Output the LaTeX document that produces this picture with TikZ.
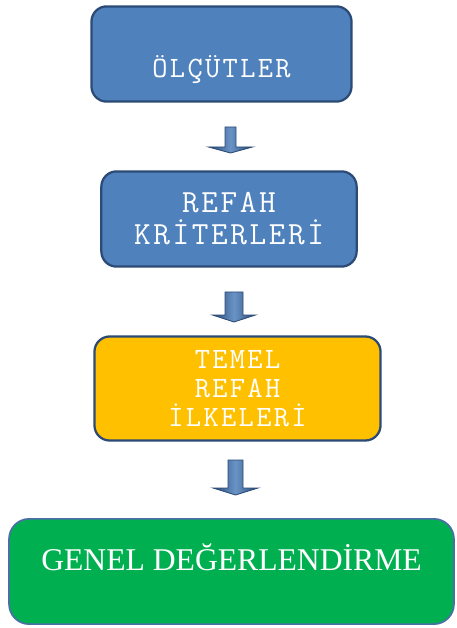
\documentclass[tikz,border=0pt]{standalone}
\usepackage{fontspec}
\setmainfont{Liberation Serif}
\newfontfamily\boxfont{Latin Modern Mono}[LetterSpace=8]
\definecolor{ofblue}{HTML}{4F81BD}
\definecolor{ofnavy}{HTML}{2B4A75}
\definecolor{ofgold}{HTML}{FFC000}
\definecolor{ofgreen}{HTML}{00B050}
\definecolor{ofedge}{HTML}{4A6FA5}
\tikzset{
  stepbox/.style={rectangle,rounded corners=0.38cm,line width=1.6pt,draw=ofnavy,
    inner sep=0pt,align=center,text=white},
  monotxt/.style={text=white,font=\boxfont\fontsize{21}{24}\selectfont,align=center},
  blockarrow/.style={draw=ofnavy,line width=0.6pt,left color=ofnavy,right color=ofnavy,middle color=ofblue!85!white}
}
\begin{document}
\begin{tikzpicture}[x=0.025cm,y=-0.025cm]
  \useasboundingbox (0,0) rectangle (456,628);
  % kutular
  \node [stepbox,fill=ofblue,minimum width=6.5cm,minimum height=2.38cm,
    label={[monotxt,yshift=-0.4cm]center:ÖLÇÜTLER}]
    (olcut) at (221.5,54) {};
  \node [stepbox,fill=ofblue,minimum width=6.38cm,minimum height=2.38cm,font=\boxfont\fontsize{23}{22.8}\selectfont]
    (kriter) at (229,219) {REFAH\\KRİTERLERİ};
  \node [stepbox,fill=ofgold,minimum width=7.15cm,minimum height=2.6cm,font=\boxfont\fontsize{21}{20.5}\selectfont]
    (ilke) at (237.5,388.5) {TEMEL\\REFAH\\İLKELERİ};
  \node [stepbox,fill=ofgreen,draw=ofedge,line width=1.2pt,rounded corners=0.5cm,
    minimum width=11.12cm,minimum height=2.63cm,
    label={[text=white,font=\fontsize{22.5}{26}\selectfont,yshift=0.36cm]center:GENEL DEĞERLENDİRME}]
    (genel) at (231.5,571.5) {};
  % oklar
  \foreach \c/\s/\h/\t/\b/\e in {230.5/5.5/22/127/147/153, 234/9/21.5/292/315/322, 235.5/7.5/22.5/460/488/495}{
    \draw [blockarrow] (\c-\s,\t) -- (\c+\s,\t) -- (\c+\s,\b) -- (\c+\h,\b)
      -- (\c,\e) -- (\c-\h,\b) -- (\c-\s,\b) -- cycle;
  }
\end{tikzpicture}
\end{document}
